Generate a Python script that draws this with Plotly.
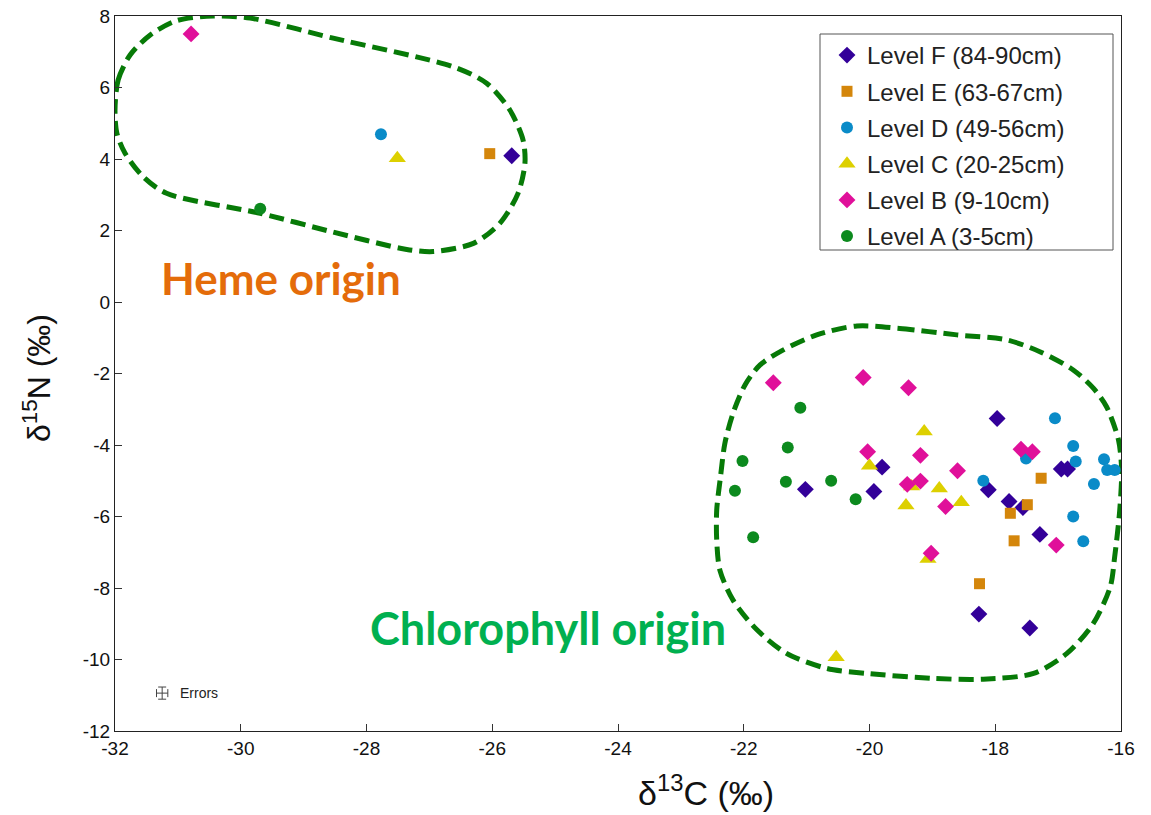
import plotly.graph_objects as go

# ---- data (δ13C, δ15N) ----
levels = ["Level F (84-90cm)", "Level E (63-67cm)", "Level D (49-56cm)",
          "Level C (20-25cm)", "Level B (9-10cm)", "Level A (3-5cm)"]

F_x = [-25.69, -21.02, -19.80, -19.93, -17.97, -16.95, -16.85, -18.11, -17.78, -17.56, -17.29, -18.26, -17.45]
F_y = [4.09, -5.24, -4.62, -5.30, -3.26, -4.67, -4.67, -5.25, -5.58, -5.75, -6.50, -8.73, -9.12]

E_x = [-26.04, -17.27, -17.49, -17.76, -17.70, -18.25]
E_y = [4.15, -4.93, -5.67, -5.91, -6.68, -7.88]

D_x = [-27.77, -17.05, -17.51, -16.76, -16.72, -16.27, -16.22, -16.10, -16.43, -18.19, -16.76, -16.60]
D_y = [4.69, -3.25, -4.38, -4.03, -4.46, -4.40, -4.70, -4.70, -5.09, -5.00, -6.00, -6.69]

C_x = [-27.51, -20.00, -19.13, -19.33, -18.89, -19.42, -18.54, -19.07, -20.53]
C_y = [4.02, -4.58, -3.62, -5.16, -5.22, -5.69, -5.60, -7.19, -9.94]

B_x = [-30.79, -21.53, -20.10, -19.38, -20.03, -19.40, -19.19, -18.60, -19.19, -18.79, -17.59, -17.41, -17.03, -19.02]
B_y = [7.50, -2.26, -2.11, -2.40, -4.19, -5.10, -4.29, -4.72, -5.01, -5.72, -4.12, -4.19, -6.80, -7.03]

A_x = [-29.69, -21.10, -21.30, -22.02, -22.14, -21.33, -20.61, -20.22, -21.85]
A_y = [2.61, -2.96, -4.07, -4.45, -5.28, -5.03, -5.00, -5.52, -6.58]

series_x = [F_x, E_x, D_x, C_x, B_x, A_x]
series_y = [F_y, E_y, D_y, C_y, B_y, A_y]
symbols = ["diamond", "square", "circle", "triangle-up", "diamond", "circle"]
colors = ["#330099", "#D4860B", "#0A8BC8", "#DDD000", "#E0109A", "#0C8A1E"]
sizes = [13, 11, 12, 15, 13, 12]

# outline guide curves (regions)
heme_x = [-32.00, -31.95, -31.76, -31.44, -31.02, -30.44, -29.85, -28.53, -26.62, -26.09, -25.72, -25.51, -25.48,
          -25.59, -25.88, -26.30, -26.94, -27.36, -28.53, -29.69, -31.18, -31.55, -31.84, -31.97, -32.00]
heme_y = [5.37, 6.21, 6.91, 7.47, 7.87, 8.00, 7.94, 7.38, 6.58, 6.12, 5.37, 4.53, 3.88,
          3.04, 2.20, 1.64, 1.41, 1.47, 1.955, 2.48, 3.04, 3.50, 4.16, 4.72, 5.37]

chl_x = [-20.20, -19.52, -18.61, -17.82, -17.29, -16.76, -16.44, -16.23, -16.04, -15.99, -16.02, -16.10, -16.17,
         -16.44, -16.86, -17.39, -18.19, -18.99, -20.04, -20.68, -21.32, -21.79, -22.17, -22.38, -22.43, -22.43,
         -22.37, -22.30, -22.17, -21.98, -21.74, -21.37, -20.84, -20.20]
chl_y = [-0.67, -0.74, -0.92, -1.06, -1.39, -1.90, -2.41, -2.93, -3.86, -4.70, -5.82, -7.12, -7.96,
         -8.99, -9.83, -10.39, -10.55, -10.53, -10.39, -10.25, -9.83, -9.17, -8.34, -7.50, -6.66, -5.82,
         -4.89, -3.95, -3.11, -2.32, -1.76, -1.34, -0.92, -0.67]

err_x = [-31.25]
err_y = [-10.94]

x_ticks = list(range(-32, -15, 2))
y_ticks = list(range(-12, 9, 2))
x_ticktext = [str(v) for v in x_ticks]
y_ticktext = [str(v) for v in y_ticks]

fig = go.Figure()

outline_color = "#077A07"
for ox, oy in [(heme_x, heme_y), (chl_x, chl_y)]:
    fig.add_trace(go.Scatter(x=ox, y=oy, mode="lines",
                             line=dict(color=outline_color, width=5, dash="15px,7px", shape="spline", smoothing=0.8),
                             showlegend=False, hoverinfo="skip"))

for i, name in enumerate(levels):
    fig.add_trace(go.Scatter(x=series_x[i], y=series_y[i], mode="markers", name=name, legendgroup=name,
                             marker=dict(symbol=symbols[i], color=colors[i], size=sizes[i], line=dict(width=0))))

fig.add_trace(go.Scatter(x=err_x, y=err_y, mode="markers", marker=dict(size=1, color="rgba(0,0,0,0)"),
                         error_x=dict(type="constant", value=0.09, color="#444", thickness=1, width=4),
                         error_y=dict(type="constant", value=0.17, color="#444", thickness=1, width=4),
                         showlegend=False, hoverinfo="skip"))

axis_font = dict(family="Liberation Sans, Arial, sans-serif", size=19, color="#111")
title_family = "Liberation Sans Narrow, Arial Narrow, Liberation Sans, sans-serif"
fig.update_xaxes(range=[-32, -16], tickvals=x_ticks, ticktext=x_ticktext, ticks="inside", ticklen=7, tickcolor="#333",
                 showline=True, linecolor="#222", linewidth=1, mirror=True, showgrid=False, zeroline=False,
                 tickfont=axis_font, automargin=False, ticklabeloverflow="allow")
fig.update_yaxes(range=[-12, 8], tickvals=y_ticks, ticktext=y_ticktext, ticks="inside", ticklen=7, tickcolor="#333",
                 showline=True, linecolor="#222", linewidth=1, mirror=True, showgrid=False, zeroline=False,
                 tickfont=axis_font, automargin=False, ticklabeloverflow="allow")

# axis titles
fig.add_annotation(x=(706 - 115) / 1006, y=-(790 - 731) / 715, xref="paper", yref="paper",
                   xanchor="center", yanchor="middle",
                   text="δ<sup>13</sup>C (‰)", showarrow=False,
                   font=dict(family=title_family, size=34, color="#111"))
fig.add_annotation(x=-(115 - 37) / 1006, y=(731 - 378) / 715, xref="paper", yref="paper",
                   xanchor="center", yanchor="middle",
                   text="δ<sup>15</sup>N (‰)", showarrow=False, textangle=-90,
                   font=dict(family=title_family, size=32, color="#111"))

fig.add_annotation(x=-29.36, y=0.67, xref="x", yref="y", text="<b>Heme origin</b>", showarrow=False,
                   font=dict(family="Lato, Open Sans, sans-serif", size=44, color="#E46C0A"))
fig.add_annotation(x=-25.11, y=-9.12, xref="x", yref="y", text="<b>Chlorophyll origin</b>", showarrow=False,
                   font=dict(family="Lato, Open Sans, sans-serif", size=45, color="#00B050"))
fig.add_annotation(x=-31.0, y=-10.94, xref="x", yref="y", text="Errors", showarrow=False, xanchor="left",
                   font=dict(family="Liberation Sans, Arial, sans-serif", size=14, color="#222"))

# legend frame
fig.add_shape(type="rect", xref="paper", yref="paper", x0=(820 - 115) / 1006, x1=(1113 - 115) / 1006,
              y0=(731 - 250) / 715, y1=(731 - 34) / 715, line=dict(color="#555", width=1), fillcolor="rgba(0,0,0,0)")

# page body adds an 8px offset; figure is sized so the plot lands at x 115-1121, y 16-731 on screen
fig.update_layout(
    width=1143, height=807,
    margin=dict(l=107, r=30, t=8, b=84, autoexpand=False),
    paper_bgcolor="white", plot_bgcolor="white",
    legend=dict(x=(827 - 115) / 1006, y=(731 - 33) / 715, xanchor="left", yanchor="top",
                bgcolor="rgba(0,0,0,0)", borderwidth=0, tracegroupgap=2,
                font=dict(family="Liberation Sans, Arial, sans-serif", size=24, color="#222")),
    showlegend=True,
)

fig.write_html("out.html")
